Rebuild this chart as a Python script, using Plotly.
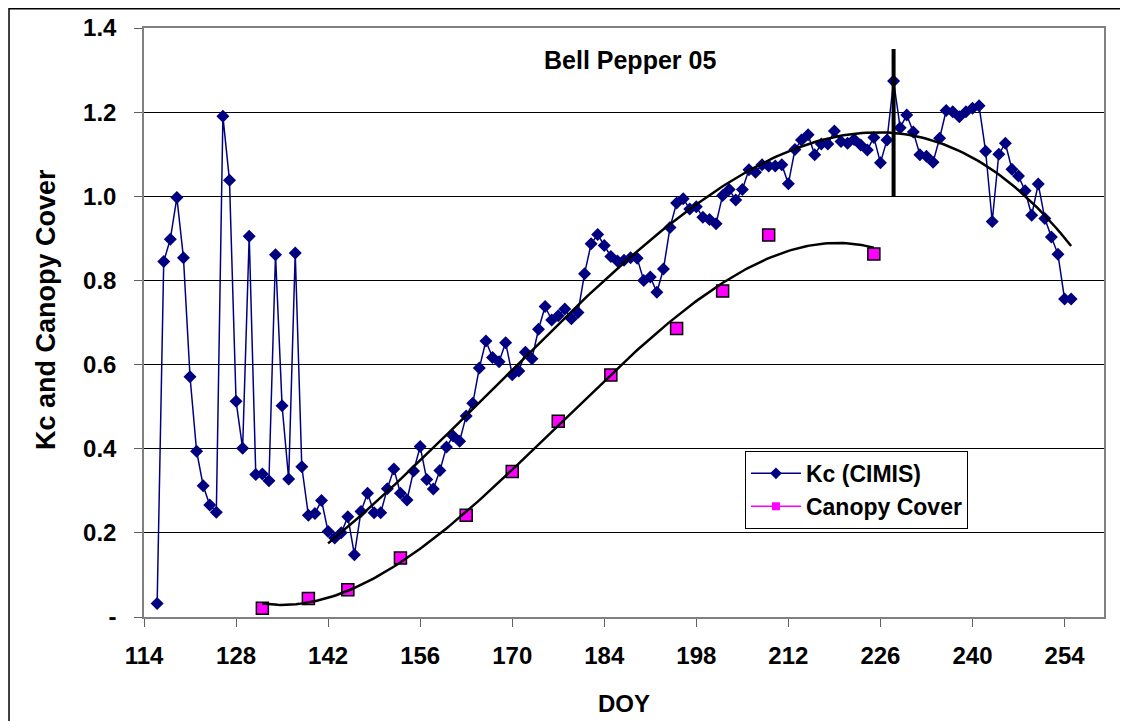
import numpy as np
import plotly.graph_objects as go

# ---------------- data ----------------
kc_doy = list(range(116, 256))
kc_values = [
    0.032, 0.845, 0.898, 0.997, 0.854, 0.571, 0.394, 0.312, 0.266, 0.249,   # 116-125
    1.190, 1.038, 0.513, 0.401, 0.905, 0.339, 0.340, 0.324, 0.861, 0.502,   # 126-135
    0.328, 0.865, 0.357, 0.242, 0.246, 0.277, 0.203, 0.188, 0.200, 0.238,   # 136-145
    0.148, 0.251, 0.294, 0.248, 0.248, 0.305, 0.352, 0.294, 0.278, 0.347,   # 146-155
    0.405, 0.327, 0.304, 0.348, 0.404, 0.430, 0.418, 0.478, 0.508, 0.592,   # 156-165
    0.656, 0.617, 0.607, 0.652, 0.576, 0.585, 0.629, 0.614, 0.684, 0.738,   # 166-175
    0.706, 0.716, 0.732, 0.709, 0.724, 0.816, 0.887, 0.909, 0.883, 0.857,   # 176-185
    0.846, 0.848, 0.854, 0.853, 0.800, 0.808, 0.772, 0.827, 0.926, 0.984,   # 186-195
    0.994, 0.970, 0.975, 0.950, 0.945, 0.935, 1.002, 1.016, 0.991, 1.016,   # 196-205
    1.063, 1.057, 1.075, 1.072, 1.072, 1.075, 1.030, 1.111, 1.134, 1.146,   # 206-215
    1.099, 1.124, 1.124, 1.155, 1.130, 1.126, 1.135, 1.122, 1.110, 1.140,   # 216-225
    1.080, 1.134, 1.274, 1.163, 1.193, 1.153, 1.099, 1.095, 1.081, 1.138,   # 226-235
    1.204, 1.201, 1.189, 1.201, 1.209, 1.215, 1.107, 0.940, 1.100, 1.126,   # 236-245
    1.064, 1.048, 1.013, 0.955, 1.029, 0.947, 0.903, 0.862, 0.756, 0.756,   # 246-255
]
canopy_doy = [132, 139, 145, 153, 163, 170, 177, 185, 195, 202, 209, 225]
canopy_values = [0.021, 0.044, 0.065, 0.140, 0.242, 0.346, 0.465, 0.575,
                 0.686, 0.775, 0.908, 0.863]

kc_trend_start = 142      # first DOY used for the Kc trend line
kc_trend_degree = 3
canopy_trend_degree = 3
marker_doy = 228          # vertical marker line
marker_range = [1.0, 1.35]

x_tick_vals = list(range(114, 255, 14))
y_tick_vals = [0, 0.2, 0.4, 0.6, 0.8, 1.0, 1.2, 1.4]
y_tick_text = ["-", "0.2", "0.4", "0.6", "0.8", "1.0", "1.2", "1.4"]

# ---------------- trend lines (polynomial fits of the data) ----------------
kd = np.array(kc_doy, dtype=float)
kv = np.array(kc_values)
mask = kd >= kc_trend_start
kc_coef = np.polyfit(kd[mask], kv[mask], kc_trend_degree)
kc_tx = np.linspace(kc_trend_start, kd.max(), 200)
kc_ty = np.polyval(kc_coef, kc_tx)

cd = np.array(canopy_doy, dtype=float)
cv = np.array(canopy_values)
cc_coef = np.polyfit(cd, cv, canopy_trend_degree)
cc_tx = np.linspace(cd.min(), cd.max(), 200)
cc_ty = np.polyval(cc_coef, cc_tx)

FONT = "Liberation Sans, Arial, sans-serif"
NAVY = "#000080"
MAGENTA = "#FF00FF"

fig = go.Figure()

fig.add_trace(go.Scatter(x=kc_doy, y=kc_values, mode="lines+markers",
                         line=dict(color=NAVY, width=1.5),
                         marker=dict(symbol="diamond", size=10, color=NAVY),
                         showlegend=False, hoverinfo="skip"))
fig.add_trace(go.Scatter(x=canopy_doy, y=canopy_values, mode="markers",
                         marker=dict(symbol="square", size=12, color=MAGENTA,
                                     line=dict(color="black", width=1.5)),
                         showlegend=False))
fig.add_trace(go.Scatter(x=kc_tx, y=kc_ty, mode="lines",
                         line=dict(color="black", width=2.5), showlegend=False))
fig.add_trace(go.Scatter(x=cc_tx, y=cc_ty, mode="lines",
                         line=dict(color="black", width=2.5), showlegend=False))
fig.add_trace(go.Scatter(x=[marker_doy, marker_doy], y=marker_range, mode="lines",
                         line=dict(color="black", width=4), showlegend=False))

# legend entries
fig.add_trace(go.Scatter(x=[None], y=[None], mode="lines+markers", name="Kc (CIMIS)",
                         line=dict(color=NAVY, width=1.5),
                         marker=dict(symbol="diamond", size=9, color=NAVY)))
fig.add_trace(go.Scatter(x=[None], y=[None], mode="lines+markers", name="Canopy Cover",
                         line=dict(color=MAGENTA, width=1.5),
                         marker=dict(symbol="square", size=8, color=MAGENTA)))

tick_font = dict(family=FONT, size=24, color="black", weight="bold")
title_font = dict(family=FONT, size=24, color="black", weight="bold")
ytitle_font = dict(family=FONT, size=27, color="black", weight="bold")

# the page has an 8px body margin, so the figure is 8px smaller on each axis
fig.update_layout(
    width=1120, height=713,
    margin=dict(l=136, r=24, t=20, b=104, autoexpand=False),
    paper_bgcolor="white", plot_bgcolor="white",
    font=dict(family=FONT, color="black"),
    xaxis=dict(range=[114, 260], tickvals=x_tick_vals, ticks="outside", ticklen=8,
               tickcolor="#606060", tickfont=tick_font, ticklabelstandoff=8,
               showgrid=False, zeroline=False, showline=True, linecolor="#808080",
               linewidth=1.5, mirror=True, automargin=False,
               title=dict(text="DOY", font=title_font, standoff=28)),
    yaxis=dict(range=[0, 1.4], tickvals=y_tick_vals, ticktext=y_tick_text,
               ticks="outside", ticklen=8, tickcolor="#606060", tickfont=tick_font,
               ticklabelstandoff=13,
               showgrid=True, gridcolor="black", gridwidth=1, zeroline=False,
               showline=True, linecolor="#808080", linewidth=1.5, mirror=True,
               automargin=False),
    legend=dict(x=0.626, y=0.282, xanchor="left", yanchor="top",
                bgcolor="white", bordercolor="black", borderwidth=1,
                font=dict(family=FONT, size=23, color="black", weight="bold"),
                itemwidth=50, tracegroupgap=4),
    annotations=[
        dict(text="Bell Pepper 05", xref="paper", yref="paper",
             x=0.506, y=0.9457, xanchor="center", yanchor="middle", showarrow=False,
             font=dict(family=FONT, size=25, color="black", weight="bold")),
        dict(text="Kc and Canopy Cover", xref="paper", yref="paper",
             x=-0.1021, y=0.523, xanchor="center", yanchor="middle", textangle=-90,
             showarrow=False, font=ytitle_font),
    ],
    shapes=[dict(type="rect", xref="paper", yref="paper", x0=-0.1406, x1=1.06,
                 y0=-0.25, y1=1.0327, line=dict(color="black", width=1.5),
                 fillcolor="rgba(0,0,0,0)", layer="below")],
)

fig.write_html("out.html")
